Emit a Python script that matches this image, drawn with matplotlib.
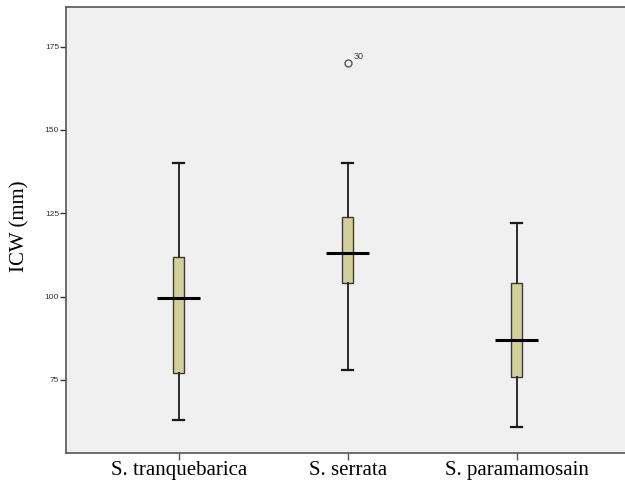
import matplotlib.pyplot as plt
import matplotlib

matplotlib.rcParams['font.family'] = ['Liberation Serif', 'DejaVu Serif']

# ICW (mm) by species
species = ['S. tranquebarica', 'S. serrata', 'S. paramamosain']
whislo = [63, 78, 61]
q1 = [77, 104, 76]
med = [99.5, 113, 87]
q3 = [112, 124, 104]
whishi = [140, 140, 122]
outliers = [[], [170], []]
outlier_ids = [[], ['30'], []]

stats = []
for i in range(len(species)):
    stats.append({'whislo': whislo[i], 'q1': q1[i], 'med': med[i], 'q3': q3[i],
                  'whishi': whishi[i], 'fliers': outliers[i], 'label': species[i]})

fig = plt.figure(figsize=(6.25, 4.82), dpi=100)
ax = fig.add_axes([0.1056, 0.0608, 0.9016, 0.925])
ax.set_facecolor('#f0f0f0')

pos = [1, 2, 3]
ax.bxp(stats, positions=pos, widths=0.065, capwidths=0.065, patch_artist=True,
       boxprops=dict(facecolor='#d3cf98', edgecolor='#3a3a3a', linewidth=1),
       whiskerprops=dict(color='#2a2a2a', linewidth=1.4),
       capprops=dict(color='#1a1a1a', linewidth=1.6),
       medianprops=dict(linewidth=0),
       flierprops=dict(marker='o', markerfacecolor='none', markeredgecolor='#555555',
                       markersize=5, markeredgewidth=1))

# SPSS style medians wider than the boxes
ax.hlines(med, [p - 0.127 for p in pos], [p + 0.127 for p in pos],
          colors='black', linewidth=2.2, zorder=4)

for i, p in enumerate(pos):
    for v, lab in zip(outliers[i], outlier_ids[i]):
        ax.annotate(lab, (p, v), xytext=(4, 3), textcoords='offset points',
                    fontsize=6.5, color='#444444', family='Liberation Sans')

ax.set_xlim(0.334, 3.666)
ax.set_ylim(53.2, 186.9)
ax.set_yticks([75, 100, 125, 150, 175])
ax.tick_params(axis='y', labelsize=6, length=4, width=1, colors='#333333', pad=1)
for t in ax.get_yticklabels():
    t.set_family('Liberation Sans')
ax.tick_params(axis='x', labelsize=15, length=5, width=1, color='#555555', pad=1)
ax.set_xticklabels(species)

for s in ax.spines.values():
    s.set_color('#555555')
    s.set_linewidth(1.2)

ax.set_ylabel('ICW (mm)', fontsize=15)
ax.yaxis.set_label_coords(-0.064, 0.508)

fig.savefig('out.png', dpi=100)
